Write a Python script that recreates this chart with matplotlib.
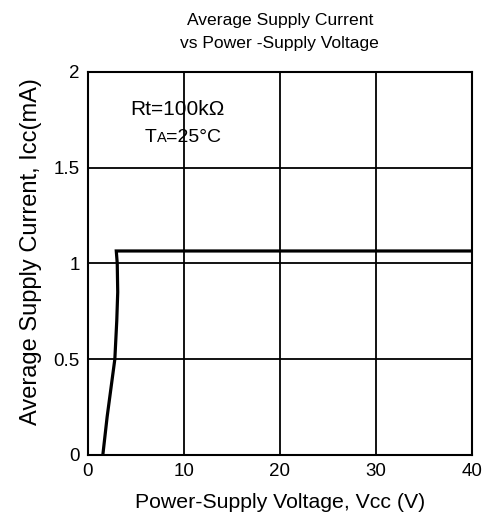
import numpy as np
import matplotlib
matplotlib.use("Agg")
from matplotlib import pyplot as plt
from matplotlib.transforms import offset_copy

# curve
vcc = [1.55, 2.0, 2.4, 2.8, 3.0, 3.1, 3.05, 2.95, 40.0]
icc = [0.0, 0.2, 0.35, 0.5, 0.7, 0.85, 1.0, 1.065, 1.065]

x_ticks = [0, 10, 20, 30, 40]
y_ticks = [0, 0.5, 1, 1.5, 2]
y_labels = ["0", "0.5", "1", "1.5", "2"]

plt.rcParams['font.family'] = ['Liberation Sans', 'DejaVu Sans']

fig = plt.figure(figsize=(4.86, 5.14), dpi=100)
ax = fig.add_axes([0.181, 0.115, 0.79, 0.745])

ax.plot(vcc, icc, color="black", linewidth=2.3, solid_joinstyle="miter")
ax.set_xlim(0, 40)
ax.set_ylim(0, 2)
ax.set_xticks(x_ticks)
ax.set_yticks(y_ticks)
ax.set_yticklabels(y_labels)
ax.tick_params(length=0, labelsize=13.5)
ax.tick_params(axis="y", pad=6)
ax.tick_params(axis="x", pad=6)
ax.grid(True, color="black", linewidth=1.3)
for s in ax.spines.values():
    s.set_linewidth(1.5)

ax.set_xlabel("Power-Supply Voltage, Vcc (V)", fontsize=15.3, labelpad=9.5)
ax.set_ylabel("Average Supply Current, Icc(mA)", fontsize=17, labelpad=8)
ax.yaxis.label.set_y(0.53)
ax.set_title("Average Supply Current\nvs Power -Supply Voltage", fontsize=12.6, pad=17,
             linespacing=1.7)

ax.text(0.234, 0.903, "Rt=100k\u03a9", transform=ax.transAxes, fontsize=15, ha="center", va="center")

# T with a small A, then =25°C
fig.canvas.draw()
r = fig.canvas.get_renderer()
tx, ty = 0.148, 0.817
t1 = ax.text(tx, ty, "T", transform=ax.transAxes, fontsize=14, ha="left", va="baseline")
bb = t1.get_window_extent(r)
t2 = ax.text(tx, ty, "A", fontsize=10.5, ha="left", va="baseline",
             transform=offset_copy(ax.transAxes, fig=fig, x=bb.width * 72 / fig.dpi, y=0, units="points"))
bb2 = t2.get_window_extent(r)
ax.text(tx, ty, "=25\u00b0C", fontsize=14, ha="left", va="baseline",
        transform=offset_copy(ax.transAxes, fig=fig, x=(bb.width + bb2.width) * 72 / fig.dpi, y=0, units="points"))

fig.savefig("out.png", dpi=100)
